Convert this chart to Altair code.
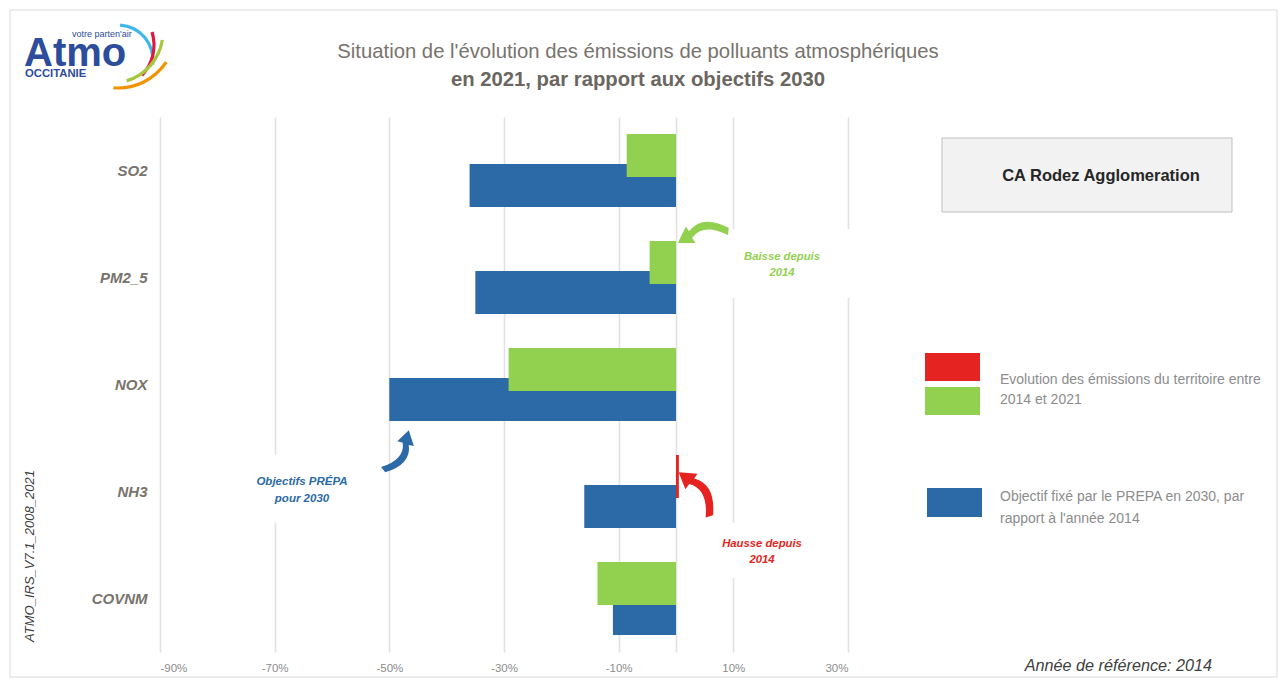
import altair as alt
import pandas as pd

# ---------------- data ----------------
categories = ["SO2", "PM2_5", "NOX", "NH3", "COVNM"]
evolution_2014_2021 = [-8.6, -4.6, -29.2, 0.5, -13.7]
objectif_prepa_2030 = [-36.0, -35.0, -50.0, -16.0, -11.0]
x_ticks = [-90, -70, -50, -30, -10, 0, 10, 30]

title_lines = ["Situation de l'évolution des émissions de polluants atmosphériques",
               "en 2021, par rapport aux objectifs 2030"]
territory = "CA Rodez Agglomeration"
legend_labels = ["Evolution des émissions du territoire entre\n2014 et 2021",
                 "Objectif fixé par le PREPA en 2030, par\nrapport à l'année 2014"]
annot_baisse = "Baisse depuis\n2014"
annot_hausse = "Hausse depuis\n2014"
annot_objectif = "Objectifs PRÉPA\npour 2030"
ref_year = "Année de référence: 2014"
version = "ATMO_IRS_V7.1_2008_2021"
logo_texts = ["Atmo", "votre parten'air", "OCCITANIE"]

# ---------------- style ----------------
FONT = "Liberation Sans Narrow, Arial Narrow, Liberation Sans, sans-serif"
LOGO_FONT = "Liberation Sans, Arial, sans-serif"
BLUE = "#2B6AA6"
GREEN = "#92D050"
RED = "#E52421"
GREY_TXT = "#78736D"
LOGO_BLUE = "#2D4C9C"
OX, OY = 160, 117          # page position of the plot origin
W, H = 688, 535

df = pd.DataFrame({"polluant": categories,
                   "evolution": evolution_2014_2021,
                   "objectif": objectif_prepa_2030})

xscale = alt.Scale(domain=[-90, 30], nice=False)
y_enc = alt.Y("polluant:N", sort=categories,
              scale=alt.Scale(paddingInner=0, paddingOuter=0),
              axis=alt.Axis(title=None, ticks=False, domain=False, grid=False,
                            labelFont=FONT, labelFontSize=15, labelFontWeight="bold",
                            labelFontStyle="italic", labelColor=GREY_TXT, labelPadding=13))

x_axis = alt.Axis(title=None, values=x_ticks, ticks=False, domain=False, grid=True,
                  gridColor="#E2E2E2", gridWidth=1.6,
                  labelExpr="datum.value == 0 ? '' : datum.value + '%'",
                  labelFont=FONT, labelFontSize=11.5, labelColor="#8C8C8C", labelPadding=10)


def px(x):
    return alt.value(x - OX)


def py(y):
    return alt.value(y - OY)


def one(text):
    return pd.DataFrame({"t": [text]})


def text_at(text, x, y, font=FONT, **kw):
    return alt.Chart(one(text)).mark_text(font=font, lineBreak="\n", **kw).encode(
        text="t:N", x=px(x), y=py(y))


def rect_at(x1, y1, x2, y2, **kw):
    return alt.Chart(one("r")).mark_rect(**kw).encode(x=px(x1), x2=px(x2), y=py(y1), y2=py(y2))


ARROW = ("M 1 -0.05 Q 0.1 -0.75 -0.5 -0.2 L -0.58 -0.4 L -1 0.15 L -0.35 0.28 "
         "L -0.43 0.06 Q 0.1 -0.42 0.92 0.22 Z")


def arrow_at(x, y, size, angle, color):
    return alt.Chart(one("a")).mark_point(shape=ARROW, filled=True, size=size, angle=angle,
                                          color=color, opacity=1, strokeWidth=0).encode(
        x=px(x), y=py(y))


def arc_at(cx, cy, r, t1, t2, color):
    return alt.Chart(one("c")).mark_arc(radius=r + 1.6, radius2=r - 1.6, theta=t1, theta2=t2,
                                        color=color).encode(x=px(cx), y=py(cy))


# ---------------- bars ----------------
base = alt.Chart(df)
bars_obj = base.mark_bar(height=43, yOffset=15, color=BLUE).encode(
    x=alt.X("objectif:Q", scale=xscale, axis=x_axis), y=y_enc)
bars_evo = base.mark_bar(height=43, yOffset=-15).encode(
    x=alt.X("evolution:Q", scale=xscale, axis=x_axis), y=y_enc,
    color=alt.condition("datum.evolution > 0", alt.value(RED), alt.value(GREEN)))

# white boxes behind annotations (they cut the gridlines as in the reference)
boxes = [
    rect_at(700, 229, 862, 298, color="white"),
    rect_at(695, 523, 830, 578, color="white"),
    rect_at(240, 455, 365, 523, color="white"),
]

annotations = [
    text_at(annot_baisse, 782, 257, fontSize=11.3, fontWeight="bold", fontStyle="italic",
            color=GREEN, align="center", baseline="middle", lineHeight=16),
    text_at(annot_hausse, 762, 544, fontSize=11.3, fontWeight="bold", fontStyle="italic",
            color=RED, align="center", baseline="middle", lineHeight=16),
    text_at(annot_objectif, 302, 482, fontSize=11.5, fontWeight="bold", fontStyle="italic",
            color=BLUE, align="center", baseline="middle", lineHeight=17),
    arrow_at(703, 234, 2800, 349, GREEN),
    arrow_at(398, 452, 2300, 125, BLUE),
    arrow_at(697, 493, 3000, 57, RED),
]

frame = rect_at(10, 10, 1277, 677, fill="white", fillOpacity=0, stroke="#D9D9D9", strokeWidth=1)

titles = [
    text_at(title_lines[0], 638, 52, fontSize=20.3, color=GREY_TXT, align="center",
            baseline="middle"),
    text_at(title_lines[1], 638, 80, fontSize=20.3, fontWeight="bold", color="#6B665F",
            align="center", baseline="middle"),
]

legend = [
    rect_at(942, 138, 1232, 212, fill="#F2F2F2", stroke="#BFBFBF", strokeWidth=1),
    text_at(territory, 1101, 176, fontSize=16.5, fontWeight="bold", color="#262626",
            align="center", baseline="middle"),
    rect_at(925, 353, 980, 381, color=RED),
    rect_at(925, 387, 980, 415, color=GREEN),
    rect_at(927, 488, 982, 517, color=BLUE),
    text_at(legend_labels[0], 1000, 380, fontSize=14, color="#8C8C8C", align="left",
            baseline="middle", lineHeight=20),
    text_at(legend_labels[1], 1000, 497, fontSize=14, color="#8C8C8C", align="left",
            baseline="middle", lineHeight=22),
]

footer = [
    text_at(ref_year, 1212, 666, fontSize=16.2, fontStyle="italic", color="#404040",
            align="right", baseline="middle"),
    text_at(version, 30, 556, fontSize=13, fontStyle="italic", color="#404040",
            align="center", baseline="middle", angle=270),
]

logo = [
    arc_at(118, 60, 35, 0.06, 1.70, "#3DB7E8"),
    arc_at(110, 45, 44, 1.27, 2.33, "#E3173E"),
    arc_at(112, 32, 51, 1.73, 2.85, "#A5C83A"),
    arc_at(118, 30, 58, 2.16, 3.22, "#F39200"),
    text_at(logo_texts[0], 24, 66, font=LOGO_FONT, fontSize=40, fontWeight="bold",
            color=LOGO_BLUE, align="left", baseline="alphabetic"),
    text_at(logo_texts[1], 72, 37, font=LOGO_FONT, fontSize=9, color=LOGO_BLUE,
            align="left", baseline="alphabetic"),
    text_at(logo_texts[2], 25, 77, font=LOGO_FONT, fontSize=11.3, fontWeight="bold",
            color=LOGO_BLUE, align="left", baseline="alphabetic"),
]

chart = alt.layer(
    frame, *boxes, bars_obj, bars_evo, *annotations, *titles, *legend, *footer, *logo
).properties(
    width=W, height=H,
    autosize=alt.AutoSizeParams(type="none"),
    padding={"left": OX - 8, "top": OY - 8, "right": 1270 - (OX - 8) - W,
             "bottom": 670 - (OY - 8) - H},
    background="white",
).configure_view(stroke=None)

chart.save("out.html", embed_options={"renderer": "svg", "actions": False})
